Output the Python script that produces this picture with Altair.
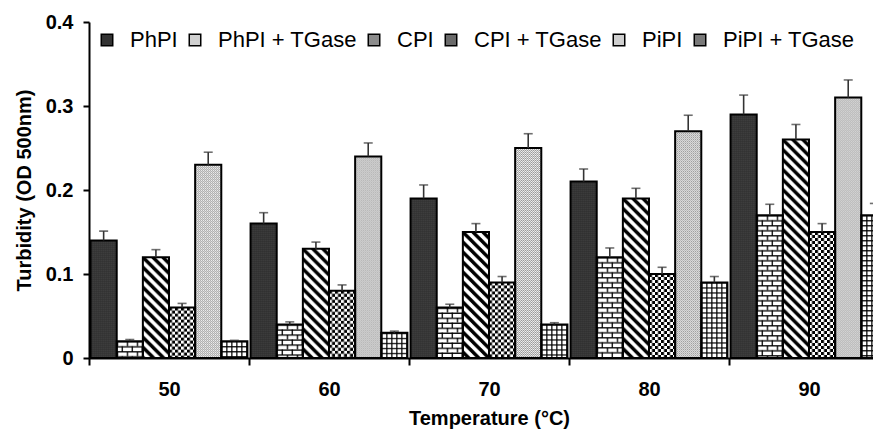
import altair as alt
import pandas as pd
from urllib.parse import quote

# ---- data ----
temps = ["50", "60", "70", "80", "90"]
series = ["PhPI", "PhPI + TGase", "CPI", "CPI + TGase", "PiPI", "PiPI + TGase"]

phpi    = [0.14, 0.16, 0.19, 0.21, 0.29]
phpi_tg = [0.02, 0.04, 0.06, 0.12, 0.17]
cpi     = [0.12, 0.13, 0.15, 0.19, 0.26]
cpi_tg  = [0.06, 0.08, 0.09, 0.10, 0.15]
pipi    = [0.23, 0.24, 0.25, 0.27, 0.31]
pipi_tg = [0.02, 0.03, 0.04, 0.09, 0.17]

phpi_err    = [0.011, 0.013, 0.016, 0.015, 0.023]
phpi_tg_err = [0.002, 0.003, 0.004, 0.011, 0.013]
cpi_err     = [0.009, 0.008, 0.010, 0.012, 0.018]
cpi_tg_err  = [0.005, 0.007, 0.007, 0.008, 0.010]
pipi_err    = [0.015, 0.016, 0.017, 0.019, 0.021]
pipi_tg_err = [0.001, 0.002, 0.002, 0.007, 0.014]

y_ticks = [0, 0.1, 0.2, 0.3, 0.4]

values = [phpi, phpi_tg, cpi, cpi_tg, pipi, pipi_tg]
errors = [phpi_err, phpi_tg_err, cpi_err, cpi_tg_err, pipi_err, pipi_tg_err]

# ---- styles: hatch patterns (SVG tiles) and grey tones for the legend ----
def pattern_url(w, h, bg, body):
    svg = (
        "<svg xmlns='http://www.w3.org/2000/svg'>"
        f"<defs><pattern id='p' width='{w}' height='{h}' patternUnits='userSpaceOnUse'>"
        f"<rect width='{w}' height='{h}' fill='{bg}'/>{body}</pattern></defs>"
        "<rect width='100%' height='100%' fill='url(#p)'/></svg>"
    )
    return "data:image/svg+xml," + quote(svg)

patterns = {
    "PhPI": pattern_url(2, 2, "#2a2a2a", "<rect width='1' height='1' fill='#5e5e5e'/>"),
    "PhPI + TGase": pattern_url(
        10, 10, "#ffffff",
        "<rect x='0' y='0' width='10' height='1.3' fill='#000'/>"
        "<rect x='0' y='5' width='10' height='1.3' fill='#000'/>"
        "<rect x='0' y='0' width='1.3' height='5' fill='#000'/>"
        "<rect x='5' y='5' width='1.3' height='5' fill='#000'/>"),
    "CPI": pattern_url(
        10, 10, "#ffffff",
        "<path d='M-3,-3 L13,13 M-3,7 L3,13 M7,-3 L13,3' stroke='#000' stroke-width='3.4'/>"),
    "CPI + TGase": pattern_url(
        6, 6, "#ffffff",
        "<rect x='0' y='0' width='3' height='3' fill='#000'/>"
        "<rect x='3' y='3' width='3' height='3' fill='#000'/>"),
    "PiPI": pattern_url(
        2, 2, "#f0f0f0",
        "<rect x='0' y='0' width='1' height='1' fill='#9a9a9a'/>"
        "<rect x='1' y='1' width='1' height='1' fill='#9a9a9a'/>"),
    "PiPI + TGase": pattern_url(
        5, 5, "#ffffff",
        "<rect x='0' y='0' width='5' height='1.2' fill='#000'/>"
        "<rect x='0' y='0' width='1.2' height='5' fill='#000'/>"),
}
greys = ["#333333", "#d0d0d0", "#8c8c8c", "#6a6a6a", "#cfcfcf", "#7a7a7a"]

rows = []
for s, vals, errs in zip(series, values, errors):
    for t, v, e in zip(temps, vals, errs):
        rows.append({"temp": t, "series": s, "value": v, "err": e, "pat": patterns[s]})
df = pd.DataFrame(rows)

FONT = "Liberation Sans"

x_enc = alt.X(
    "temp:N",
    sort=temps,
    title="Temperature (°C)",
    scale=alt.Scale(domain=temps, range=[0, 800], paddingInner=0, paddingOuter=0),
    axis=alt.Axis(
        labelAngle=0, tickBand="extent", grid=False,
        domainColor="black", domainWidth=2, tickColor="black", tickWidth=2, tickSize=7,
        labelFont=FONT, labelFontSize=20, labelFontWeight="bold", labelColor="black", labelPadding=14,
        titleFont=FONT, titleFontSize=20, titleFontWeight="bold", titleColor="black", titlePadding=9,
    ),
)
xoff_enc = alt.XOffset(
    "series:N", sort=series,
    scale=alt.Scale(domain=series, paddingInner=0, paddingOuter=0.06),
)
y_scale = alt.Scale(domain=[0, 0.4], nice=False)
y_enc = alt.Y(
    "value:Q",
    scale=y_scale,
    title="Turbidity (OD 500nm)",
    axis=alt.Axis(
        values=y_ticks, format="~g", grid=False,
        domainColor="black", domainWidth=2, tickColor="black", tickWidth=2, tickSize=6,
        labelFont=FONT, labelFontSize=20, labelFontWeight="bold", labelColor="black", labelPadding=10,
        titleFont=FONT, titleFontSize=20, titleFontWeight="bold", titleColor="black", titlePadding=11,
    ),
)

base = alt.Chart(df).encode(x=x_enc, xOffset=xoff_enc)

bars = base.mark_bar().encode(
    y=y_enc,
    fill=alt.Fill(
        "series:N", sort=series,
        scale=alt.Scale(domain=series, range=greys),
        legend=alt.Legend(
            orient="none", legendX=7, legendY=7, direction="horizontal", columns=6,
            title=None, padding=0, symbolType="square", symbolSize=132,
            symbolStrokeColor="black", symbolStrokeWidth=1.5, symbolOpacity=1,
            labelFont=FONT, labelFontSize=22, labelColor="black", labelOffset=12,
            columnPadding=6,
        ),
    ),
)

hatch = base.mark_image(aspect=False).encode(
    y=alt.Y("value:Q", scale=y_scale),
    y2=alt.datum(0),
    url="pat:N",
)

outline = base.mark_bar(filled=False, stroke="black", strokeWidth=2).encode(
    y=alt.Y("value:Q", scale=y_scale),
)

err_rule = base.transform_calculate(hi="datum.value + datum.err").mark_rule(
    color="#333333", strokeWidth=1.6
).encode(
    y=alt.Y("value:Q", scale=y_scale),
    y2="hi:Q",
)

err_cap = base.transform_calculate(hi="datum.value + datum.err").mark_tick(
    orient="horizontal", color="#333333", thickness=1.6, size=9
).encode(
    y=alt.Y("hi:Q", scale=y_scale),
)

chart = alt.layer(bars, hatch, outline, err_rule, err_cap).properties(
    width=784,
    height=336,
    autosize=alt.AutoSizeParams(type="none"),
    padding={"left": 81, "top": 14, "right": 0, "bottom": 71},
    background="white",
).configure_view(stroke=None)

chart.save("out.html", embed_options={"renderer": "svg", "actions": False})
